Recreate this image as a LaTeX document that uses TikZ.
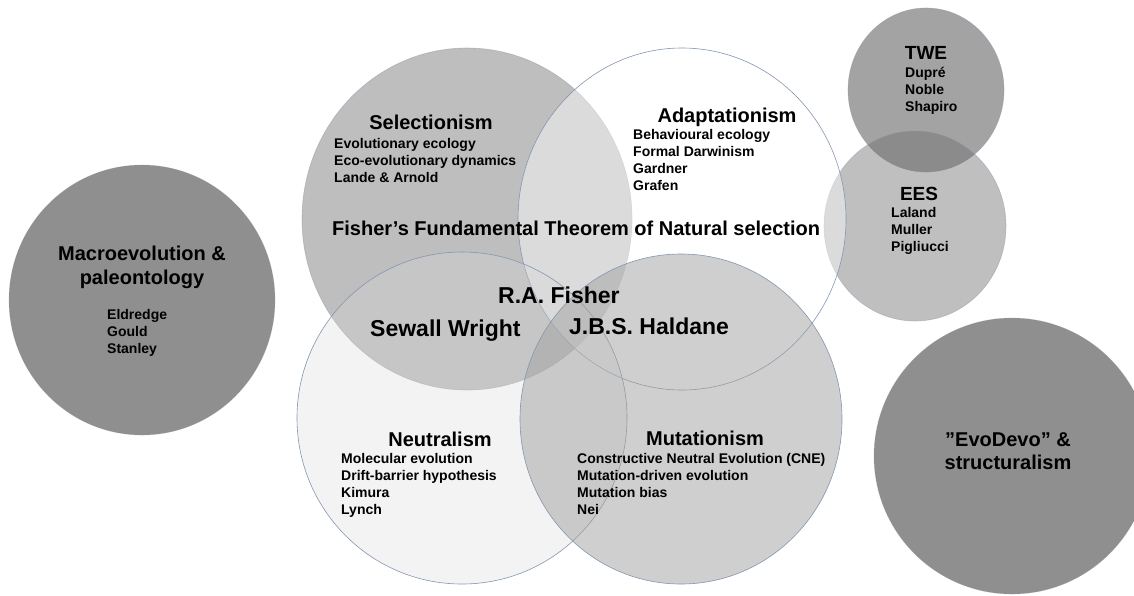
\documentclass[tikz,border=0pt]{standalone}
\usepackage{fontspec}
\setmainfont{Liberation Sans}
\usepackage{tikz}
\definecolor{rimblue}{RGB}{132,151,176}
\definecolor{macrogray}{RGB}{143,143,143}
\definecolor{selgray}{RGB}{190,190,190}
\definecolor{neutgray}{RGB}{218,218,218}
\definecolor{mutgray}{RGB}{161,161,161}
\definecolor{twegray}{RGB}{163,163,163}
\definecolor{eesgray}{RGB}{110,110,110}
\tikzstyle{bubble} = [draw=rimblue, line width=0.6pt]
\tikzstyle{heading} = [font=\fontsize{20}{24}\selectfont\bfseries, inner sep=0pt, anchor=base]
\tikzstyle{smallhead} = [font=\fontsize{19}{23}\selectfont\bfseries, inner sep=0pt, anchor=base]
\tikzstyle{item} = [font=\fontsize{14}{17}\selectfont\bfseries, inner sep=0pt, anchor=base west]
\tikzstyle{founder} = [font=\fontsize{23}{28}\selectfont\bfseries, inner sep=0pt, anchor=base west]

\begin{document}
\begin{tikzpicture}[x=1pt, y=-1pt]
\clip (0,0) rectangle (1134,595);
\fill[white] (0,0) rectangle (1134,595);
% outer circles
\path[bubble, draw opacity=0.3, fill=macrogray] (142,300) ellipse [x radius=133, y radius=135];
\path[bubble, draw opacity=0.3, fill=macrogray] (1012,456) ellipse [x radius=138, y radius=138];
\path[bubble, draw opacity=0.5, fill=twegray] (926,90) ellipse [x radius=78, y radius=82];
\path[bubble, draw opacity=0.5, fill=eesgray, fill opacity=0.435] (915,226) ellipse [x radius=91, y radius=95];
% the four schools
\path[bubble, draw opacity=0.5, fill=selgray] (467,219) ellipse [x radius=165, y radius=171];
\path[bubble, fill=white, fill opacity=0.45] (682,219) ellipse [x radius=164, y radius=171];
\path[bubble, fill=neutgray, fill opacity=0.3] (462,418) ellipse [x radius=165, y radius=166];
\path[bubble, fill=mutgray, fill opacity=0.5] (681,419) ellipse [x radius=161, y radius=165];

% labels
\node[heading] (macrohead) at (142,260) {Macroevolution \&};
\node[heading] (macrohead2) at (142,284) {paleontology};
\foreach \name [count=\i from 0] in {Eldredge, Gould, Stanley}
  \node[item] (macro\i) at (107,{319+17*\i}) {\name};

\node[heading] (selhead) at (431,129) {Selectionism};
\foreach \name [count=\i from 0] in {Evolutionary ecology, Eco-evolutionary dynamics, Lande \& Arnold}
  \node[item] (sel\i) at (334,{148+17*\i}) {\name};

\node[heading] (adapthead) at (727,122) {Adaptationism};
\foreach \name [count=\i from 0] in {Behavioural ecology, Formal Darwinism, Gardner, Grafen}
  \node[item] (adapt\i) at (633,{139+17*\i}) {\name};

\node[heading, anchor=base west] (theorem) at (332,235) {Fisher’s Fundamental Theorem of Natural selection};

\node[founder] (fisher) at (498,303) {R.A. Fisher};
\node[founder] (wright) at (370,336) {Sewall Wright};
\node[founder] (haldane) at (569,334) {J.B.S. Haldane};

\node[heading] (neuthead) at (440,446) {Neutralism};
\foreach \name [count=\i from 0] in {Molecular evolution, Drift-barrier hypothesis, Kimura, Lynch}
  \node[item] (neut\i) at (341,{463+17*\i}) {\name};

\node[heading] (muthead) at (705,445) {Mutationism};
\foreach \name [count=\i from 0] in {Constructive Neutral Evolution (CNE), Mutation-driven evolution, Mutation bias, Nei}
  \node[item] (mut\i) at (577,{463+17*\i}) {\name};

\node[smallhead] (twehead) at (926,59) {TWE};
\foreach \name [count=\i from 0] in {Dupré, Noble, Shapiro}
  \node[item] (twe\i) at (905,{77+17*\i}) {\name};

\node[smallhead] (eeshead) at (919,200) {EES};
\foreach \name [count=\i from 0] in {Laland, Muller, Pigliucci}
  \node[item] (ees\i) at (891,{217+17*\i}) {\name};

\node[heading] (evohead) at (1008,446) {”EvoDevo” \&};
\node[heading] (evohead2) at (1008,469) {structuralism};
\end{tikzpicture}
\end{document}
